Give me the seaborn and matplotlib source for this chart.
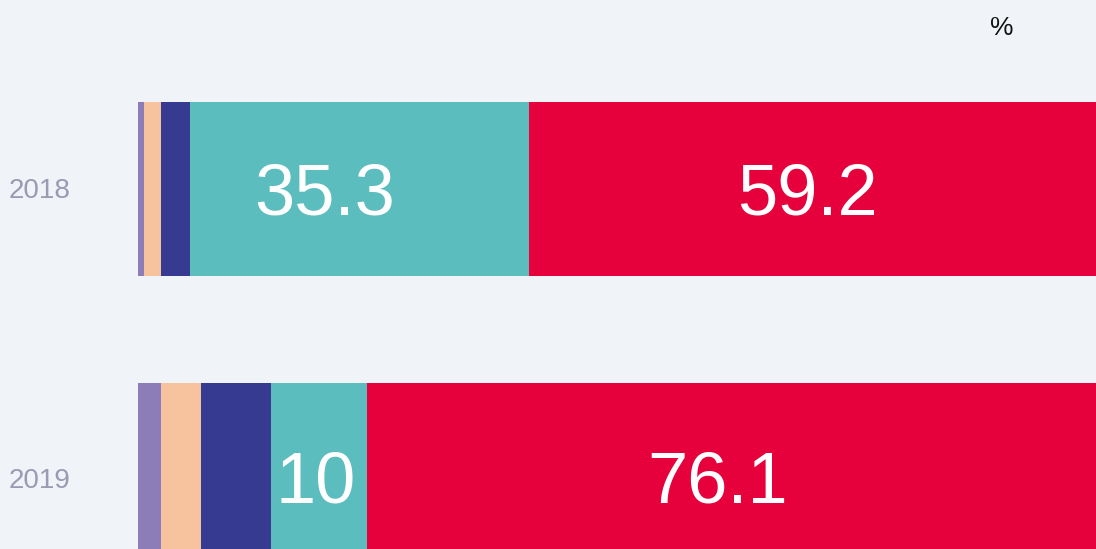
import matplotlib
matplotlib.use("Agg")
import matplotlib.pyplot as plt
import seaborn as sns
import numpy as np

years = ["2018", "2019"]
segments = ["a", "b", "c", "d", "e"]
values_2018 = [0.7, 1.7, 3.1, 35.3, 59.2]
values_2019 = [2.5, 4.1, 7.3, 10.0, 76.1]
colors = ["#8C7DB8", "#F7C39F", "#363A90", "#5BBDBD", "#E6003C"]
labelled = [3, 4]  # segments that carry a value label

bg = "#F0F4F8"
sns.set_theme(style="white")
plt.rcParams["font.family"] = ["Liberation Sans", "DejaVu Sans"]

fig = plt.figure(figsize=(10.96, 5.49), dpi=100, facecolor=bg)
ax = fig.add_axes([137.5 / 1096, 0, 1 - 137.5 / 1096, 1])
ax.set_facecolor(bg)

data = np.array([values_2018, values_2019])
cum = np.cumsum(data, axis=1)

# draw from the widest cumulative bar down so the stack shows through
for i in reversed(range(len(segments))):
    sns.barplot(x=cum[:, i], y=years, color=colors[i], width=0.62,
                orient="h", ax=ax, saturation=1, linewidth=0)

# value labels, centred in their segment (nudges in pixels)
nudge = {(0, 3): (-35, 0), (1, 3): (-3, 7), (1, 4): (-14, 7), (0, 4): (-5, 0)}
px = 0.72
for r in range(len(years)):
    for i in labelled:
        left = cum[r, i] - data[r, i]
        xc = left + data[r, i] / 2
        dx, dy = nudge.get((r, i), (0, 0))
        ax.annotate(f"{data[r, i]:g}", (xc, r),
                    xytext=(dx * px, -(dy + 25) * px),
                    textcoords="offset points", ha="center", va="baseline",
                    color="white", fontsize=52)

ax.set_xlim(0, 100)
ax.set_ylim(1.2811, -0.6726)
ax.set_xticks([])
ax.set_yticks([])
ax.set_xlabel("")
ax.set_ylabel("")
for s in ax.spines.values():
    s.set_visible(False)

for y, base in zip(years, [198, 488]):
    fig.text(9 / 1096, 1 - base / 549, y, ha="left", va="baseline",
             fontsize=20, color="#9A9AB2")

fig.text(1002 / 1096, 1 - 28 / 549, "%", ha="center", va="center",
         fontsize=19, color="#111111")

fig.savefig("out.png", dpi=100, facecolor=bg)
